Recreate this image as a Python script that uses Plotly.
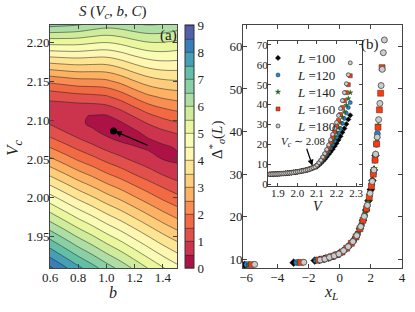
import plotly.graph_objects as go

W, H = 415, 312

# ---------------- panel (a): S(Vc, b, C) landscape ----------------
b_grid = [0.6, 0.7, 0.8, 0.9, 1.0, 1.1, 1.2, 1.3, 1.4, 1.5]
vc_grid = [1.91, 1.94, 1.97, 2.00, 2.03, 2.05, 2.065, 2.075, 2.085, 2.095,
           2.105, 2.115, 2.13, 2.15, 2.175, 2.20, 2.225]
S_grid = [
    [8.60, 8.11, 7.63, 7.20, 6.75, 6.34, 5.90, 5.46, 5.04, 4.67],
    [7.30, 6.84, 6.38, 5.98, 5.56, 5.18, 4.77, 4.37, 3.98, 3.64],
    [5.99, 5.56, 5.14, 4.77, 4.38, 4.03, 3.66, 3.29, 2.93, 2.62],
    [4.70, 4.30, 3.91, 3.57, 3.21, 2.90, 2.56, 2.23, 1.91, 1.64],
    [3.42, 3.06, 2.70, 2.40, 2.07, 1.80, 1.50, 1.23, 0.98, 0.77],
    [2.59, 2.25, 1.92, 1.64, 1.35, 1.11, 0.88, 0.68, 0.48, 0.40],
    [1.99, 1.68, 1.38, 1.12, 0.86, 0.68, 0.53, 0.42, 0.40, 0.55],
    [1.61, 1.32, 1.05, 0.82, 0.59, 0.42, 0.36, 0.47, 0.65, 0.79],
    [1.27, 1.01, 0.77, 0.58, 0.38, 0.30, 0.42, 0.71, 0.92, 1.08],
    [0.98, 0.77, 0.59, 0.42, 0.30, 0.40, 0.71, 1.01, 1.24, 1.42],
    [0.79, 0.65, 0.56, 0.47, 0.45, 0.71, 1.04, 1.37, 1.61, 1.77],
    [0.76, 0.73, 0.74, 0.75, 0.82, 1.07, 1.43, 1.77, 1.99, 2.13],
    [1.14, 1.22, 1.31, 1.36, 1.44, 1.71, 2.08, 2.40, 2.59, 2.70],
    [2.12, 2.23, 2.33, 2.35, 2.41, 2.65, 2.99, 3.26, 3.41, 3.47],
    [3.62, 3.69, 3.73, 3.70, 3.70, 3.89, 4.16, 4.37, 4.46, 4.44],
    [5.20, 5.21, 5.19, 5.09, 5.03, 5.15, 5.35, 5.50, 5.51, 5.42],
    [6.83, 6.77, 6.68, 6.51, 6.37, 6.42, 6.56, 6.63, 6.57, 6.41],
]
best_b = [1.05]
best_vc = [2.086]
arrow_tail_b, arrow_tail_vc = 1.30, 2.067

# ---------------- inset: Delta vs V ----------------
V_values = [1.86, 1.87, 1.88, 1.89, 1.90, 1.91, 1.92, 1.93, 1.94, 1.95, 1.96, 1.97,
            1.98, 1.99, 2.00, 2.01, 2.02, 2.03, 2.04, 2.05, 2.06, 2.07, 2.08, 2.09,
            2.10, 2.11, 2.12, 2.13, 2.14, 2.15, 2.16, 2.17, 2.18, 2.19, 2.20, 2.21,
            2.22, 2.23, 2.24, 2.25, 2.26, 2.27]
delta_low = [4.9, 4.95, 5.0, 5.05, 5.1, 5.15, 5.25, 5.3, 5.4, 5.5, 5.6, 5.7,
             5.85, 6.0, 6.15, 6.3, 6.5, 6.7, 6.9, 7.15, 7.45, 7.8, 8.2, 8.6]
delta_high_100 = [8.8, 9.6, 10.5, 11.5, 12.5, 13.7, 15.0, 16.2, 17.5, 19.0, 20.5, 22.2,
                  24.0, 26.0, 28.0, 30.2, 32.5, 34.6]
delta_high_120 = [9.0, 10.0, 11.0, 12.1, 13.3, 14.8, 16.3, 18.0, 19.8, 21.6, 23.5, 25.7,
                  28.0, 30.5, 33.0, 35.7, 38.5, 41.0]
delta_high_140 = [9.2, 10.2, 11.3, 12.6, 14.0, 15.6, 17.3, 19.3, 21.5, 23.7, 26.0, 28.5,
                  31.0, 33.7, 36.5, 39.7, 43.0, 46.0]
delta_high_160 = [9.3, 10.4, 11.6, 13.1, 14.7, 16.5, 18.5, 21.0, 23.5, 26.2, 29.0, 32.0,
                  35.0, 38.5, 42.0, 46.0, 50.0, 54.5]
delta_high_180 = [9.5, 10.7, 12.0, 13.6, 15.3, 17.4, 19.7, 22.3, 25.0, 28.0, 31.0, 34.5,
                  38.0, 42.0, 46.0, 50.5, 55.0, 61.0]

# ---------------- panel (b): scaling collapse ----------------
xL_100 = [-6.10, -2.95, -1.60, -1.30, -1.00, -0.70, -0.40, -0.10, 0.20, 0.50, 0.80, 1.05,
          1.30, 1.50, 1.70, 1.85, 2.00, 2.10, 2.20, 2.30]
y_100 = [8.75, 9.25, 9.75, 9.90, 10.15, 10.45, 10.80, 11.25, 11.90, 12.85, 14.00, 15.30,
         17.20, 19.20, 21.60, 23.80, 26.40, 28.50, 31.00, 34.40]
xL_120 = [-5.95, -2.75, -1.50, -1.20, -0.90, -0.60, -0.30, 0.00, 0.30, 0.60, 0.90, 1.15,
          1.40, 1.60, 1.78, 1.93, 2.06, 2.17, 2.27, 2.36, 2.42]
y_120 = [8.80, 9.30, 9.80, 10.00, 10.25, 10.55, 10.95, 11.40, 12.20, 13.20, 14.50, 16.00,
         18.10, 20.30, 22.70, 25.10, 27.60, 30.20, 33.30, 37.00, 39.50]
xL_140 = [-5.80, -2.62, -1.45, -1.15, -0.85, -0.55, -0.25, 0.05, 0.35, 0.65, 0.95, 1.20,
          1.45, 1.65, 1.83, 1.97, 2.10, 2.21, 2.31, 2.40, 2.47]
y_140 = [8.80, 9.30, 9.80, 10.00, 10.30, 10.60, 11.00, 11.50, 12.35, 13.40, 14.70, 16.40,
         18.60, 20.90, 23.50, 25.80, 28.50, 31.30, 34.70, 38.30, 41.50]
xL_160 = [-5.65, -2.50, -1.35, -1.05, -0.75, -0.45, -0.15, 0.15, 0.45, 0.75, 1.05, 1.30,
          1.50, 1.72, 1.90, 2.04, 2.16, 2.27, 2.37, 2.46, 2.55, 2.63, 2.72]
y_160 = [8.80, 9.30, 9.85, 10.10, 10.40, 10.75, 11.15, 11.75, 12.65, 13.80, 15.30, 17.20,
         19.20, 21.90, 24.60, 27.20, 30.00, 33.30, 37.10, 41.00, 45.10, 49.00, 55.00]
xL_180 = [-5.45, -2.30, -1.25, -0.95, -0.65, -0.35, -0.05, 0.25, 0.55, 0.85, 1.10, 1.35,
          1.58, 1.78, 1.95, 2.09, 2.20, 2.31, 2.41, 2.50, 2.58, 2.66, 2.73, 2.80, 2.87]
y_180 = [8.85, 9.35, 9.90, 10.10, 10.50, 10.85, 11.30, 12.05, 13.00, 14.20, 15.60, 17.70,
         20.10, 22.70, 25.50, 28.30, 31.00, 34.70, 38.70, 42.80, 46.60, 50.80, 54.60,
         58.50, 61.50]

L_labels = ["100", "120", "140", "160", "180"]

# ---------------- styling ----------------
FONT = "Liberation Serif"
spectral = [
    [0.0, "rgb(158,1,66)"], [0.1, "rgb(213,62,79)"], [0.2, "rgb(244,109,67)"],
    [0.3, "rgb(253,174,97)"], [0.4, "rgb(254,224,139)"], [0.5, "rgb(255,255,191)"],
    [0.6, "rgb(230,245,152)"], [0.7, "rgb(171,221,164)"], [0.8, "rgb(102,194,165)"],
    [0.9, "rgb(50,136,189)"], [1.0, "rgb(94,79,162)"],
]
styles = [
    dict(symbol="diamond", color="black", line=dict(color="black", width=0.5), s_main=6, s_in=4),
    dict(symbol="circle", color="#1e88d8", line=dict(color="#222", width=0.5), s_main=6, s_in=4),
    dict(symbol="star", color="#1f7a1f", line=dict(color="#113311", width=0.3), s_main=5, s_in=4),
    dict(symbol="square", color="#ff3a0a", line=dict(color="#333", width=0.5), s_main=6, s_in=4),
    dict(symbol="circle", color="#cccccc", line=dict(color="#444", width=0.8), s_main=6, s_in=4),
]
main_x = [xL_100, xL_120, xL_140, xL_160, xL_180]
main_y = [y_100, y_120, y_140, y_160, y_180]
inset_y = [delta_low + delta_high_100, delta_low + delta_high_120, delta_low + delta_high_140,
           delta_low + delta_high_160, delta_low + delta_high_180]
legend_rows = [58, 75, 92, 109, 126]   # pixel rows of the inset legend entries


def px(x):
    return x / W


def py(y):
    return 1 - y / H


fig = go.Figure()

fig.add_trace(go.Contour(
    x=b_grid, y=vc_grid, z=S_grid, xaxis="x", yaxis="y",
    colorscale=spectral, zmin=0, zmax=9, autocontour=False,
    contours=dict(start=0, end=9, size=0.5, coloring="fill", showlines=True),
    line=dict(color="rgba(30,30,30,0.85)", width=0.6, smoothing=1.2),
    showscale=True,
    colorbar=dict(x=px(185), xanchor="left", y=(py(268) + py(25)) / 2, yanchor="middle",
                  len=(268 - 25) / H, lenmode="fraction", thickness=9, thicknessmode="pixels",
                  outlinewidth=1, outlinecolor="#333", xpad=0, ypad=0,
                  tickmode="array", tickvals=list(range(10)), ticks="",
                  tickfont=dict(family=FONT, size=13, color="#222")),
    showlegend=False, hoverinfo="skip",
))

fig.add_trace(go.Scatter(x=best_b, y=best_vc, mode="markers", xaxis="x", yaxis="y",
                         marker=dict(color="black", size=7), showlegend=False))

for i in range(5):
    st = styles[i]
    fig.add_trace(go.Scatter(
        x=main_x[i], y=main_y[i], mode="markers", xaxis="x2", yaxis="y2",
        marker=dict(symbol=st["symbol"], color=st["color"], size=st["s_main"], line=st["line"]),
        showlegend=False, cliponaxis=True))

legend_names = ["legend", "legend2", "legend3", "legend4", "legend5"]
for i in range(5):
    st = styles[i]
    fig.add_trace(go.Scatter(
        x=V_values, y=inset_y[i], mode="markers", xaxis="x3", yaxis="y3",
        marker=dict(symbol=st["symbol"], color=st["color"], size=st["s_in"], line=st["line"]),
        name="<i>L</i> =" + L_labels[i], showlegend=True, legend=legend_names[i]))

axis_common = dict(showline=True, linecolor="#444", linewidth=1, mirror="ticks",
                   ticks="inside", ticklen=4, tickcolor="#444", showgrid=False,
                   zeroline=False, tickfont=dict(family=FONT, size=13, color="#222"),
                   ticklabelstandoff=-3)
inset_axis = {**axis_common, "tickfont": dict(family=FONT, size=11, color="#222"), "ticklen": 3}

layout_legends = {}
for i, name in enumerate(legend_names):
    layout_legends[name] = dict(x=px(258), y=py(legend_rows[i]), xanchor="left", yanchor="middle",
                                bgcolor="rgba(0,0,0,0)", borderwidth=0,
                                font=dict(family=FONT, size=13, color="#222"), itemwidth=30)

fig.update_layout(
    width=W, height=H, margin=dict(l=0, r=0, t=0, b=0, autoexpand=False),
    paper_bgcolor="white", plot_bgcolor="white",
    font=dict(family=FONT, color="#222"),
    xaxis=dict(domain=[px(50), px(177)], range=[0.6, 1.5], tickvals=[0.6, 0.8, 1.0, 1.2, 1.4],
               ticktext=["0.6", "0.8", "1.0", "1.2", "1.4"], anchor="y", **axis_common),
    yaxis=dict(domain=[py(268), py(25)], range=[1.91, 2.222],
               tickvals=[1.95, 2.00, 2.05, 2.10, 2.15, 2.20],
               ticktext=["1.95", "2.00", "2.05", "2.10", "2.15", "2.20"], anchor="x", **axis_common),
    xaxis2=dict(domain=[px(243), px(402)], range=[-6.2, 4.0], tickvals=[-6, -4, -2, 0, 2, 4],
                ticktext=["\u22126", "\u22124", "\u22122", "0", "2", "4"], anchor="y2", **axis_common),
    yaxis2=dict(domain=[py(268), py(25)], range=[8, 65], tickvals=[10, 20, 30, 40, 50, 60],
                anchor="x2", **axis_common),
    xaxis3=dict(domain=[px(268), px(362)], range=[1.85, 2.33],
                tickvals=[1.9, 2.0, 2.1, 2.2, 2.3], ticktext=["1.9", "2.0", "2.1", "2.2", "2.3"],
                anchor="y3", **inset_axis),
    yaxis3=dict(domain=[py(186), py(41)], range=[-1, 72], tickvals=[0, 10, 20, 30, 40, 50, 60, 70],
                anchor="x3", **inset_axis),
    **layout_legends,
)

ann = []


def text(x, y, s, size=14, angle=0, **kw):
    ann.append(dict(x=px(x), y=py(y), xref="paper", yref="paper", text=s, showarrow=False,
                    textangle=angle, font=dict(family=FONT, size=size, color="#222"),
                    xanchor="center", yanchor="middle", **kw))


text(113, 12, "<i>S</i> (<i>V<sub>c</sub></i>, <i>b</i>, <i>C</i>)", size=15)
text(113, 292, "<i>b</i>", size=16)
text(14, 148, "<i>V<sub>c</sub></i>", size=17, angle=-90)
text(168, 35, "(a)", size=15)
text(331, 292, "<i>x<sub>L</sub></i>", size=16)
text(217, 140, "\u0394<sup>*</sup><sub><i>\u03c3</i></sub>(<i>L</i>)", size=15, angle=-90)
text(370, 45, "(b)", size=15)
text(318, 206, "<i>V</i>", size=14)
text(303, 142, "<i>V<sub>c</sub></i> \u223c 2.08", size=11)

# arrows
ann.append(dict(x=best_b[0] + 0.012, y=best_vc[0] - 0.0008, xref="x", yref="y",
                ax=arrow_tail_b, ay=arrow_tail_vc, axref="x", ayref="y", text="",
                showarrow=True, arrowhead=2, arrowsize=1, arrowwidth=1.3, arrowcolor="black"))
ann.append(dict(x=2.077, y=9.2, xref="x3", yref="y3", ax=2.045, ay=18.5, axref="x3", ayref="y3",
                text="", showarrow=True, arrowhead=2, arrowsize=1, arrowwidth=1.2,
                arrowcolor="black"))
fig.update_layout(annotations=ann)

fig.write_html("out.html", config={"displayModeBar": False},
               post_script="document.body.style.margin='0';")
